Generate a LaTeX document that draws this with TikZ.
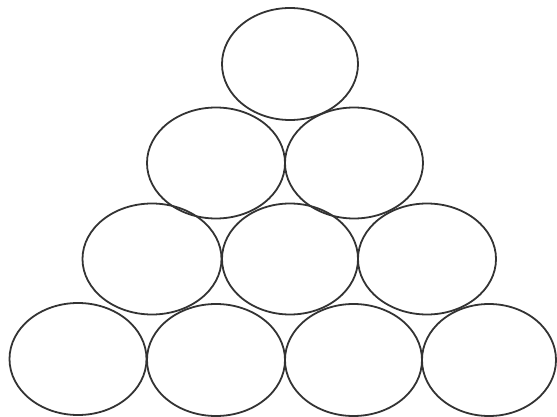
\documentclass[tikz,border=0pt]{standalone}
\usetikzlibrary{shapes.geometric}
\definecolor{inkc}{HTML}{333333}
\begin{document}
\begin{tikzpicture}[x=1pt,y=-1pt,
  ball/.style={ellipse,draw=inkc,line width=1.8pt,inner sep=0pt,minimum width=137pt,minimum height=111pt}]
\useasboundingbox (0,0) rectangle (557,417);
\node[ball,minimum width=136pt,minimum height=112pt] (a) at (290,64) {};
\node[ball,minimum width=138pt] (b1) at (216,163) {};
\node[ball,minimum width=138pt] (b2) at (354,163) {};
\node[ball,minimum width=139pt] (c1) at (152,259) {};
\node[ball,minimum width=136pt] (c2) at (290,259) {};
\node[ball,minimum width=138pt] (c3) at (427,259) {};
\node[ball,minimum height=112pt] (d1) at (78,359) {};
\node[ball,minimum width=138pt,minimum height=112pt] (d2) at (216,360) {};
\node[ball,minimum height=112pt] (d3) at (353.5,360) {};
\node[ball,minimum width=134pt,minimum height=112pt] (d4) at (489,360) {};
\end{tikzpicture}
\end{document}
